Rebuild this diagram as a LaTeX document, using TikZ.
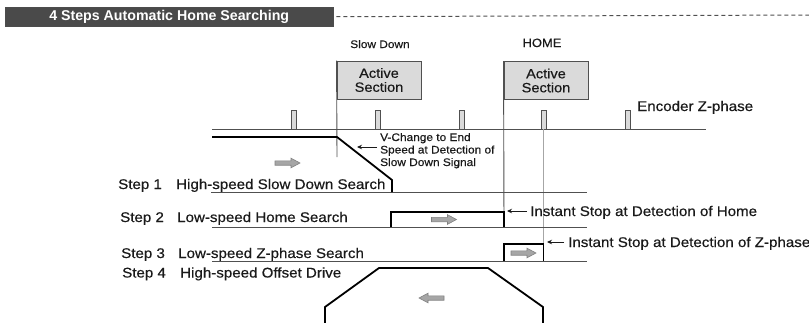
\documentclass[tikz,border=0pt]{standalone}
\usepackage{fontspec}
\setmainfont{Liberation Sans}
\newfontfamily\dfont[FakeStretch=1.08,FakeBold=0.4]{Liberation Sans}
\usetikzlibrary{arrows.meta}
\definecolor{txt}{HTML}{1A1A1A}
\definecolor{bar}{HTML}{4A4A4A}
\definecolor{boxfill}{HTML}{DADADA}
\definecolor{linec}{HTML}{505050}
\definecolor{arrowfill}{HTML}{A6A6A6}
\newcommand{\grarrowR}[2]{%
  \filldraw[draw=gray, fill=arrowfill, line width=0.6pt, line join=miter]
    (#1-12.5,#2-2.2) -- (#1+3.5,#2-2.2) -- (#1+3.5,#2-4.8) -- (#1+12.5,#2)
    -- (#1+3.5,#2+4.8) -- (#1+3.5,#2+2.2) -- (#1-12.5,#2+2.2) -- cycle;}
\newcommand{\grarrowL}[2]{%
  \filldraw[draw=gray, fill=arrowfill, line width=0.6pt, line join=miter]
    (#1+12.5,#2-2.2) -- (#1-3.5,#2-2.2) -- (#1-3.5,#2-4.8) -- (#1-12.5,#2)
    -- (#1-3.5,#2+4.8) -- (#1-3.5,#2+2.2) -- (#1+12.5,#2+2.2) -- cycle;}
\begin{document}
\begin{tikzpicture}[x=1pt,y=-1pt,
  lbl/.style={inner sep=0pt, anchor=base west, text=txt, font=\dfont\fontsize{14}{16}\selectfont},
  small/.style={inner sep=0pt, anchor=base west, text=txt, font=\dfont\fontsize{11}{12.5}\selectfont},
  abox/.style={draw=linec, line width=0.9pt, fill=boxfill, minimum width=84pt, minimum height=38pt, inner sep=0pt, align=center, text=txt, font=\dfont\fontsize{13.5}{14}\selectfont},
  pulse/.style={draw=linec, line width=0.8pt, fill=boxfill, minimum width=5pt, minimum height=19pt, inner sep=0pt},
  base/.style={draw=linec, line width=1pt},
  thin/.style={draw=linec, line width=0.9pt},
  prof/.style={draw=black, line width=1.8pt, line join=miter},
  note/.style={draw=txt, line width=0.9pt, -{Stealth[length=5pt,width=4.5pt]}}
]
\useasboundingbox (0,0) rectangle (809,322);
\fill[white] (0,0) rectangle (809,322);

% title bar
\node[fill=bar, draw=black!70, minimum width=328pt, minimum height=19pt, inner sep=0pt, anchor=north west,
      text=white, font=\bfseries\fontsize{14.2}{16}\selectfont] (title) at (5,7) {4 Steps Automatic Home Searching};
\coordinate (dashend) at (809,15);
\draw[linec, line width=1pt, dash pattern=on 4pt off 3pt] ([xshift=3pt]title.east) -- (dashend);

% headers
\node[inner sep=0pt, anchor=base, text=txt, font=\dfont\fontsize{11}{12}\selectfont] (slowdown) at (380,48) {Slow Down};
\node[inner sep=0pt, anchor=base, text=txt, font=\dfont\fontsize{12}{13}\selectfont] (home) at (542,47) {HOME};

% active sections
\node[abox] (a1) at (379,80) {Active\\Section};
\node[abox] (a2) at (546,80.5) {Active\\Section};

% encoder line and pulses
\coordinate (encL) at (212,129);
\coordinate (encR) at (706,129);
\draw[base] (encL) -- (encR);
\node[pulse] (p1) at (293.5,119.5) {};
\node[pulse] (p2) at (377.5,119.5) {};
\node[pulse] (p3) at (461.5,119.5) {};
\node[pulse] (p4) at (543.5,119.5) {};
\node[pulse] (p5) at (628,119.5) {};
\node[lbl] (enc) at (637,111) {Encoder Z-phase};

% vertical markers
\coordinate (v1b) at (337,157);
\draw[thin] (a1.north west) -- (v1b);
\coordinate (v2b) at (504,227);
\draw[thin] (a2.north west) -- (v2b);
\coordinate (zb) at (543.5,244);
\draw[gray!70, line width=0.8pt] (p4.south) -- (zb);

% step baselines
\coordinate (b1L) at (211,192); \coordinate (b1R) at (587,192);
\coordinate (b2L) at (212,227); \coordinate (b2R) at (587,227);
\coordinate (b3L) at (212,261); \coordinate (b3R) at (587,261);
\draw[base] (b1L) -- (b1R);
\draw[base] (b2L) -- (b2R);
\draw[base] (b3L) -- (b3R);

% step labels
\node[lbl] (s1) at (118,189) {Step 1};
\node[lbl] (d1) at (176,189) {High-speed Slow Down Search};
\node[lbl] (s2) at (120,222) {Step 2};
\node[lbl] (d2) at (177,222) {Low-speed Home Search};
\node[lbl] (s3) at (121,258) {Step 3};
\node[lbl] (d3) at (178,258) {Low-speed Z-phase Search};
\node[lbl] (s4) at (122,277.5) {Step 4};
\node[lbl] (d4) at (180,277.5) {High-speed Offset Drive};

% step 1 profile
\coordinate (q1) at (212,137); \coordinate (q2) at (337,137);
\coordinate (q3) at (392,180); \coordinate (q4) at (392,192);
\draw[prof] (q1) -- (q2) -- (q3) -- (q4);
\grarrowR{287.5}{163}
\node[small] (vc) at (380,141) {V-Change to End};
\node[small] (vc2) at (380,153.5) {Speed at Detection of};
\node[small] (vc3) at (380,166) {Slow Down Signal};
\coordinate (vcs) at (377,147);
\coordinate (vct) at (357,147);
\draw[note] (vcs) -- (vct);

% step 2 profile
\coordinate (r1) at (391,227); \coordinate (r2) at (391,212);
\coordinate (r3) at (504,212); \coordinate (r4) at (504,227);
\draw[prof] (r1) -- (r2) -- (r3) -- (r4);
\grarrowR{444}{219.5}
\node[lbl] (ih) at (530,216) {Instant Stop at Detection of Home};
\coordinate (ihs) at (527,211);
\coordinate (iht) at (507,211);
\draw[note] (ihs) -- (iht);

% step 3 profile
\coordinate (t1) at (504,261); \coordinate (t2) at (504,244);
\coordinate (t3) at (543.5,244); \coordinate (t4) at (543.5,261);
\draw[prof] (t1) -- (t2) -- (t3) -- (t4);
\grarrowR{523.5}{253}
\node[lbl] (iz) at (568,247) {Instant Stop at Detection of Z-phase};
\coordinate (izs) at (564,242);
\coordinate (izt) at (547,242);
\draw[note] (izs) -- (izt);

% step 4 profile
\coordinate (u1) at (325,323); \coordinate (u2) at (325,307);
\coordinate (u3) at (379,268); \coordinate (u4) at (488,268);
\coordinate (u5) at (543,307); \coordinate (u6) at (543,323);
\draw[prof] (u1) -- (u2) -- (u3) -- (u4) -- (u5) -- (u6);
\grarrowL{431.5}{298}
\end{tikzpicture}
\end{document}
